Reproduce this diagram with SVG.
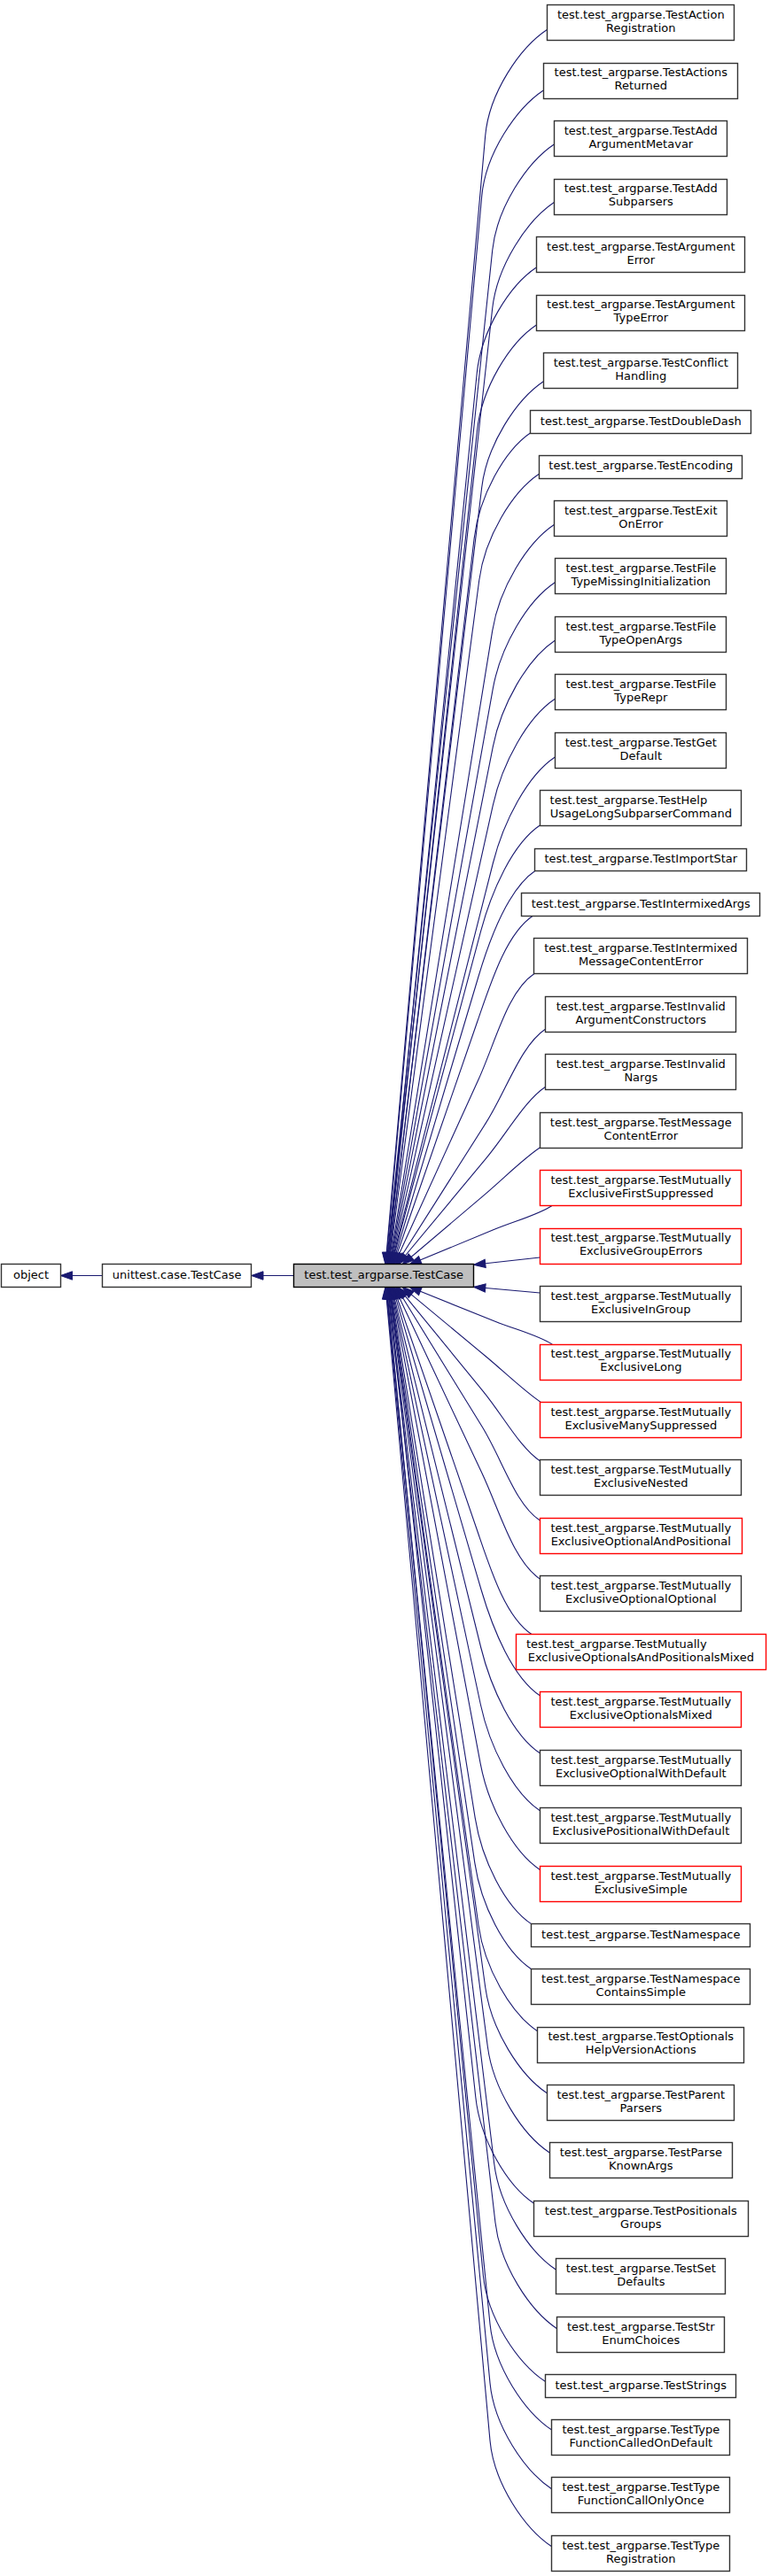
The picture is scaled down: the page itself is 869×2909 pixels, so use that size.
<svg xmlns="http://www.w3.org/2000/svg" width="869" height="2909" viewBox="0 0 869 2909">
<style>
rect{fill:#fff;stroke:#333;stroke-width:1.4}
.r rect{stroke:#ff0000}
.m rect{fill:#bfbfbf;stroke:#000}
text{font-family:"DejaVu Sans",Verdana,sans-serif;font-size:13px;fill:#000;text-anchor:middle}
text.s{text-anchor:start}
#edges path{fill:none;stroke:#191970;stroke-width:1.1;marker-end:url(#ah)}
</style>
<defs>
<marker id="ah" markerWidth="14" markerHeight="10" refX="13.3" refY="4.7" orient="auto" markerUnits="userSpaceOnUse" overflow="visible">
<path d="M0,0 L13.3,4.7 L0,9.4 Z" fill="#191970" stroke="#191970" stroke-width="1"/>
</marker>
</defs>
<rect width="869" height="2909" style="fill:#fff;stroke:none"/>
<g id="edges">
<path d="M116,1440.5 L68.3,1440.5"/>
<path d="M332,1440.5 L283.7,1440.5"/>
<path d="M617.7,33.3 C586.6,53.9 552,104.9 547.7,153.3 L435,1428"/>
<path d="M613.7,101.7 C582.6,122.3 548,173.3 543.7,221.7 L435.5,1428"/>
<path d="M625.7,162.7 C594.6,183.3 560.8,234.4 555.7,282.7 L436,1428"/>
<path d="M625.7,228.3 C594.6,248.9 561,300 555.7,348.3 L436.5,1428"/>
<path d="M605.7,301.7 C574.8,322.1 543,373.7 538.2,421.7 L437,1428"/>
<path d="M605.7,366.7 C574.8,387.1 543.5,438.8 538.4,486.7 L437.5,1428"/>
<path d="M613.7,430.5 C582.6,451.1 549.5,502.2 543.7,550.5 L438,1428"/>
<path d="M599.5,488.3 C569,508.5 540.7,560.9 535.1,608.3 L438.5,1428"/>
<path d="M608.7,535 C577.8,555.4 547.1,607.1 540.8,655 L439,1428"/>
<path d="M625.7,592.3 C594.6,612.9 563.5,664.3 555.7,712.3 L439.5,1428"/>
<path d="M626.3,657.7 C595.2,678.3 564.9,729.8 556.3,777.7 L440,1428"/>
<path d="M626.3,723.3 C595.2,743.9 565.7,795.6 556.3,843.3 L440.5,1428"/>
<path d="M626.3,789.3 C595.2,809.9 566.8,861.8 556.3,909.3 L441,1428"/>
<path d="M626.3,855 C595.2,875.6 568.2,927.9 556.3,975 L441.5,1428"/>
<path d="M609.7,931.7 C578.9,952.1 555,1005.2 542.6,1051.7 L442,1428"/>
<path d="M604.5,983 C574,1003.2 553.5,1057.3 539.9,1103 L443,1428"/>
<path d="M601.7,1034 C571.3,1054.1 554.1,1109.1 538.6,1154 L444,1428"/>
<path d="M603,1099.5 C572.6,1119.6 559.5,1176.3 539.8,1219.5 L445,1428"/>
<path d="M615.7,1162 C587.5,1180.7 571.8,1231.2 548.2,1268.4 L447,1428"/>
<path d="M615.7,1227.3 C592.3,1242.8 572.3,1279.5 549,1307.6 L449,1428"/>
<path d="M609.3,1296 C591,1308.1 568.9,1330.3 547.2,1348.8 L454,1428"/>
<path d="M623,1361.5 C607.4,1371.9 581.2,1378.8 558.6,1388.1 L462,1428"/>
<path d="M609.3,1420 L534.5,1428.3"/>
<path d="M609.3,1460 L534.5,1453.3"/>
<path d="M623.3,1518.2 C607.7,1507.9 581.4,1501.3 558.8,1492.2 L462,1453.3"/>
<path d="M610.7,1583.7 C592.4,1571.6 570,1549.8 548,1531.5 L454,1453.3"/>
<path d="M609.7,1650 C586.9,1634.9 567.9,1598.9 545.4,1571.3 L449,1453.3"/>
<path d="M609,1716.7 C581.3,1698.3 566.9,1648.2 544.2,1611.3 L447,1453.3"/>
<path d="M609.7,1783.3 C579,1762.9 564.2,1706.6 543.8,1663.3 L445,1453.3"/>
<path d="M600,1845.5 C569.7,1825.4 553,1770.3 537.6,1725.5 L444,1453.3"/>
<path d="M609.7,1915 C578.9,1894.6 556.5,1841.1 543,1795 L443,1453.3"/>
<path d="M609.7,1980 C578.8,1959.6 554.2,1906.8 542.6,1860 L442,1453.3"/>
<path d="M609.7,2045 C578.8,2024.6 552.5,1972.1 542.4,1925 L441.5,1453.3"/>
<path d="M609.7,2111.7 C578.8,2091.3 551.1,2039.1 542.2,1991.7 L441,1453.3"/>
<path d="M600,2172.9 C569.5,2152.7 543.7,2099.9 536.2,2052.9 L440.5,1453.3"/>
<path d="M599.7,2223.7 C569.2,2203.5 542.7,2150.8 535.8,2103.7 L440,1453.3"/>
<path d="M607,2294 C576.2,2273.6 546.6,2221.6 540,2174 L439.5,1453.3"/>
<path d="M617.7,2364 C586.6,2343.4 554.3,2292.2 547.7,2244 L439,1453.3"/>
<path d="M620.3,2431 C589.2,2410.4 556.6,2359.2 550.3,2311 L438.5,1453.3"/>
<path d="M602.7,2488.3 C572,2468 541.9,2415.9 536.8,2368.3 L438,1453.3"/>
<path d="M627.7,2563.3 C596.6,2542.7 563.6,2491.5 557.7,2443.3 L437.5,1453.3"/>
<path d="M629,2630 C597.9,2609.4 564.6,2558.3 559,2510 L437,1453.3"/>
<path d="M615.3,2689.3 C584.2,2668.7 550,2617.6 545.3,2569.3 L436.5,1453.3"/>
<path d="M623,2744.3 C591.9,2723.7 557.8,2672.7 553,2624.3 L436,1453.3"/>
<path d="M623,2811 C591.9,2790.4 557.6,2739.4 553,2691 L435.5,1453.3"/>
<path d="M623,2876 C591.9,2855.4 557.4,2804.5 553,2756 L435,1453.3"/>
</g>
<g id="node-object"><rect x="1.5" y="1427.5" width="67" height="26"/><text x="35" y="1443.6">object</text></g>
<g id="node-unittest-TestCase"><rect x="115.5" y="1427.5" width="168" height="26"/><text x="199.7" y="1443.6">unittest.case.TestCase</text></g>
<g id="node-TestCase" class="m"><rect x="331.5" y="1427.5" width="203" height="26"/><text x="433.2" y="1443.6">test.test_argparse.TestCase</text></g>
<g id="node-TestActionRegistration"><rect x="617.5" y="5.5" width="211" height="40"/><text x="723.3" y="20.9">test.test_argparse.TestAction</text><text x="723.3" y="35.9">Registration</text></g>
<g id="node-TestActionsReturned"><rect x="613.5" y="71.5" width="219" height="40"/><text x="723.3" y="86.4">test.test_argparse.TestActions</text><text x="723.3" y="101.4">Returned</text></g>
<g id="node-TestAddArgumentMetavar"><rect x="625.5" y="136.5" width="195" height="40"/><text x="723.3" y="151.8">test.test_argparse.TestAdd</text><text x="723.3" y="166.8">ArgumentMetavar</text></g>
<g id="node-TestAddSubparsers"><rect x="625.5" y="202.5" width="195" height="40"/><text x="723.3" y="217.3">test.test_argparse.TestAdd</text><text x="723.3" y="232.3">Subparsers</text></g>
<g id="node-TestArgumentError"><rect x="605.5" y="267.5" width="235" height="40"/><text x="723.3" y="282.8">test.test_argparse.TestArgument</text><text x="723.3" y="297.8">Error</text></g>
<g id="node-TestArgumentTypeError"><rect x="605.5" y="333.5" width="235" height="40"/><text x="723.3" y="348.3">test.test_argparse.TestArgument</text><text x="723.3" y="363.3">TypeError</text></g>
<g id="node-TestConflictHandling"><rect x="613.5" y="398.5" width="219" height="40"/><text x="723.3" y="413.7">test.test_argparse.TestConflict</text><text x="723.3" y="428.7">Handling</text></g>
<g id="node-TestDoubleDash"><rect x="598.5" y="463.5" width="249" height="26"/><text x="723.3" y="479.6">test.test_argparse.TestDoubleDash</text></g>
<g id="node-TestEncoding"><rect x="608.5" y="514.5" width="229" height="26"/><text x="723.3" y="530.4">test.test_argparse.TestEncoding</text></g>
<g id="node-TestExitOnError"><rect x="625.5" y="565.5" width="195" height="40"/><text x="723.3" y="580.7">test.test_argparse.TestExit</text><text x="723.3" y="595.7">OnError</text></g>
<g id="node-TestFileTypeMissingInitialization"><rect x="626.5" y="630.5" width="193" height="40"/><text x="723.3" y="646.2">test.test_argparse.TestFile</text><text x="723.3" y="661.2">TypeMissingInitialization</text></g>
<g id="node-TestFileTypeOpenArgs"><rect x="626.5" y="696.5" width="193" height="40"/><text x="723.3" y="711.7">test.test_argparse.TestFile</text><text x="723.3" y="726.7">TypeOpenArgs</text></g>
<g id="node-TestFileTypeRepr"><rect x="626.5" y="761.5" width="193" height="40"/><text x="723.3" y="777.1">test.test_argparse.TestFile</text><text x="723.3" y="792.1">TypeRepr</text></g>
<g id="node-TestGetDefault"><rect x="626.5" y="827.5" width="193" height="40"/><text x="723.3" y="842.6">test.test_argparse.TestGet</text><text x="723.3" y="857.6">Default</text></g>
<g id="node-TestHelpUsageLongSubparserCommand"><rect x="609.5" y="892.5" width="227" height="40"/><text class="s" x="620.6" y="908.1">test.test_argparse.TestHelp</text><text x="723.3" y="923.1">UsageLongSubparserCommand</text></g>
<g id="node-TestImportStar"><rect x="603.5" y="958.5" width="239" height="25"/><text x="723.3" y="974">test.test_argparse.TestImportStar</text></g>
<g id="node-TestIntermixedArgs"><rect x="588.5" y="1008.5" width="269" height="26"/><text x="723.3" y="1024.7">test.test_argparse.TestIntermixedArgs</text></g>
<g id="node-TestIntermixedMessageContentError"><rect x="602.5" y="1059.5" width="241" height="40"/><text x="723.3" y="1075.1">test.test_argparse.TestIntermixed</text><text x="723.3" y="1090.1">MessageContentError</text></g>
<g id="node-TestInvalidArgumentConstructors"><rect x="615.5" y="1125.5" width="215" height="40"/><text x="723.3" y="1140.6">test.test_argparse.TestInvalid</text><text x="723.3" y="1155.6">ArgumentConstructors</text></g>
<g id="node-TestInvalidNargs"><rect x="615.5" y="1190.5" width="215" height="40"/><text x="723.3" y="1206">test.test_argparse.TestInvalid</text><text x="723.3" y="1221">Nargs</text></g>
<g id="node-TestMessageContentError"><rect x="609.5" y="1256.5" width="228" height="40"/><text x="723.3" y="1271.5">test.test_argparse.TestMessage</text><text x="723.3" y="1286.5">ContentError</text></g>
<g id="node-TestMutuallyExclusiveFirstSuppressed" class="r"><rect x="609.5" y="1321.5" width="227" height="40"/><text x="723.3" y="1337">test.test_argparse.TestMutually</text><text x="723.3" y="1352">ExclusiveFirstSuppressed</text></g>
<g id="node-TestMutuallyExclusiveGroupErrors" class="r"><rect x="609.5" y="1387.5" width="227" height="40"/><text x="723.3" y="1402.4">test.test_argparse.TestMutually</text><text x="723.3" y="1417.4">ExclusiveGroupErrors</text></g>
<g id="node-TestMutuallyExclusiveInGroup"><rect x="609.5" y="1452.5" width="227" height="40"/><text x="723.3" y="1467.9">test.test_argparse.TestMutually</text><text x="723.3" y="1482.9">ExclusiveInGroup</text></g>
<g id="node-TestMutuallyExclusiveLong" class="r"><rect x="609.5" y="1518.5" width="227" height="40"/><text x="723.3" y="1533.4">test.test_argparse.TestMutually</text><text x="723.3" y="1548.4">ExclusiveLong</text></g>
<g id="node-TestMutuallyExclusiveManySuppressed" class="r"><rect x="609.5" y="1583.5" width="227" height="40"/><text x="723.3" y="1598.9">test.test_argparse.TestMutually</text><text x="723.3" y="1613.9">ExclusiveManySuppressed</text></g>
<g id="node-TestMutuallyExclusiveNested"><rect x="609.5" y="1648.5" width="227" height="40"/><text x="723.3" y="1664.3">test.test_argparse.TestMutually</text><text x="723.3" y="1679.3">ExclusiveNested</text></g>
<g id="node-TestMutuallyExclusiveOptionalAndPositional" class="r"><rect x="609.5" y="1714.5" width="228" height="40"/><text x="723.3" y="1729.8">test.test_argparse.TestMutually</text><text x="723.3" y="1744.8">ExclusiveOptionalAndPositional</text></g>
<g id="node-TestMutuallyExclusiveOptionalOptional"><rect x="609.5" y="1779.5" width="227" height="40"/><text x="723.3" y="1795.3">test.test_argparse.TestMutually</text><text x="723.3" y="1810.3">ExclusiveOptionalOptional</text></g>
<g id="node-TestMutuallyExclusiveOptionalsAndPositionalsMixed" class="r"><rect x="582.5" y="1845.5" width="282" height="40"/><text class="s" x="594" y="1860.7">test.test_argparse.TestMutually</text><text x="723.3" y="1875.7">ExclusiveOptionalsAndPositionalsMixed</text></g>
<g id="node-TestMutuallyExclusiveOptionalsMixed" class="r"><rect x="609.5" y="1910.5" width="227" height="40"/><text x="723.3" y="1926.2">test.test_argparse.TestMutually</text><text x="723.3" y="1941.2">ExclusiveOptionalsMixed</text></g>
<g id="node-TestMutuallyExclusiveOptionalWithDefault"><rect x="609.5" y="1976.5" width="227" height="40"/><text x="723.3" y="1991.7">test.test_argparse.TestMutually</text><text x="723.3" y="2006.7">ExclusiveOptionalWithDefault</text></g>
<g id="node-TestMutuallyExclusivePositionalWithDefault"><rect x="609.5" y="2041.5" width="227" height="40"/><text x="723.3" y="2057.1">test.test_argparse.TestMutually</text><text x="723.3" y="2072.1">ExclusivePositionalWithDefault</text></g>
<g id="node-TestMutuallyExclusiveSimple" class="r"><rect x="609.5" y="2107.5" width="227" height="40"/><text x="723.3" y="2122.6">test.test_argparse.TestMutually</text><text x="723.3" y="2137.6">ExclusiveSimple</text></g>
<g id="node-TestNamespace"><rect x="599.5" y="2172.5" width="247" height="26"/><text x="723.3" y="2188.5">test.test_argparse.TestNamespace</text></g>
<g id="node-TestNamespaceContainsSimple"><rect x="599.5" y="2223.5" width="247" height="40"/><text x="723.3" y="2238.9">test.test_argparse.TestNamespace</text><text x="723.3" y="2253.9">ContainsSimple</text></g>
<g id="node-TestOptionalsHelpVersionActions"><rect x="606.5" y="2289.5" width="233" height="40"/><text x="723.3" y="2304.3">test.test_argparse.TestOptionals</text><text x="723.3" y="2319.3">HelpVersionActions</text></g>
<g id="node-TestParentParsers"><rect x="617.5" y="2354.5" width="211" height="40"/><text x="723.3" y="2369.8">test.test_argparse.TestParent</text><text x="723.3" y="2384.8">Parsers</text></g>
<g id="node-TestParseKnownArgs"><rect x="620.5" y="2419.5" width="206" height="40"/><text x="723.3" y="2435.3">test.test_argparse.TestParse</text><text x="723.3" y="2450.3">KnownArgs</text></g>
<g id="node-TestPositionalsGroups"><rect x="602.5" y="2485.5" width="242" height="40"/><text x="723.3" y="2500.7">test.test_argparse.TestPositionals</text><text x="723.3" y="2515.7">Groups</text></g>
<g id="node-TestSetDefaults"><rect x="627.5" y="2550.5" width="191" height="40"/><text x="723.3" y="2566.2">test.test_argparse.TestSet</text><text x="723.3" y="2581.2">Defaults</text></g>
<g id="node-TestStrEnumChoices"><rect x="628.5" y="2616.5" width="189" height="40"/><text x="723.3" y="2631.7">test.test_argparse.TestStr</text><text x="723.3" y="2646.7">EnumChoices</text></g>
<g id="node-TestStrings"><rect x="615.5" y="2681.5" width="215" height="26"/><text x="723.3" y="2697.5">test.test_argparse.TestStrings</text></g>
<g id="node-TestTypeFunctionCalledOnDefault"><rect x="622.5" y="2732.5" width="201" height="40"/><text x="723.3" y="2747.9">test.test_argparse.TestType</text><text x="723.3" y="2762.9">FunctionCalledOnDefault</text></g>
<g id="node-TestTypeFunctionCallOnlyOnce"><rect x="622.5" y="2797.5" width="201" height="40"/><text x="723.3" y="2813.4">test.test_argparse.TestType</text><text x="723.3" y="2828.4">FunctionCallOnlyOnce</text></g>
<g id="node-TestTypeRegistration"><rect x="622.5" y="2863.5" width="201" height="40"/><text x="723.3" y="2878.9">test.test_argparse.TestType</text><text x="723.3" y="2893.9">Registration</text></g>
</svg>
